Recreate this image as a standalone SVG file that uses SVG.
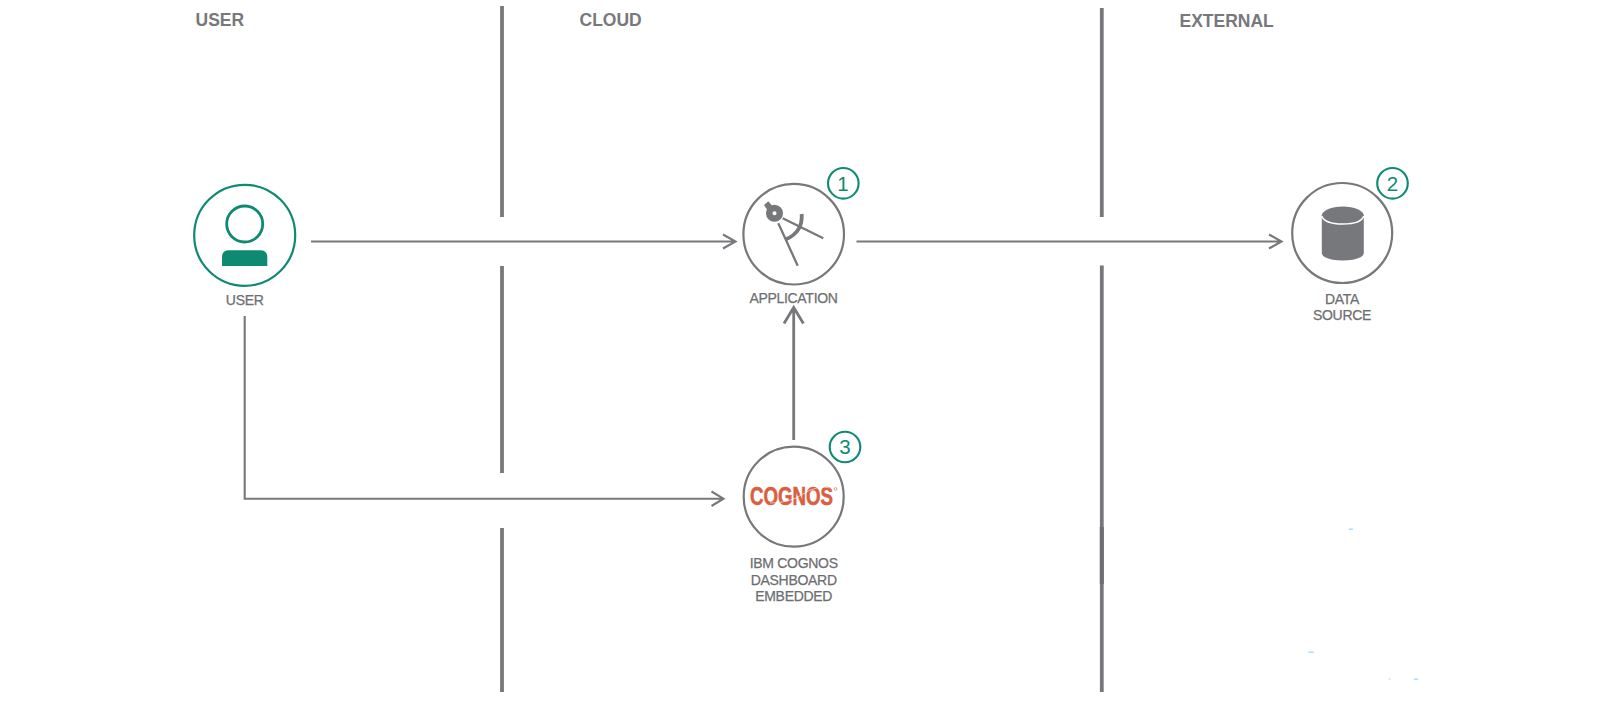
<svg xmlns="http://www.w3.org/2000/svg" width="1601" height="701" viewBox="0 0 1601 701">
<style>
.head{font:bold 17.5px "Liberation Sans",Arial,sans-serif;fill:#77787b}
.lab{font:14px "Liberation Sans",Arial,sans-serif;fill:#6d6e71;text-anchor:middle;letter-spacing:-.3px;stroke:#6d6e71;stroke-width:.25px}
.num{font:20.500px "Liberation Sans",Arial,sans-serif;fill:#0f8a72;text-anchor:middle}
.ring{fill:#fff;stroke:#77787b;stroke-width:2.200}
.badge{fill:#fff;stroke:#0f8a72;stroke-width:2.100}
.sep{stroke:#77787b;stroke-width:3.800;fill:none}
.conn{stroke:#77787b;stroke-width:2.100;fill:none}
.speck{fill:#a9dcf5}
</style>
<rect width="1601" height="701" fill="#fff"/>
<g id="separators">
<path class="sep" d="M502 6V217M502 266V473M502 528V692M1101.800 8V217M1101.800 265.500V692"/>
<path d="M1101.800 527V584" stroke="#6d6e71" stroke-width="4" fill="none"/>
</g>
<g id="zone-labels">
<text class="head" x="195.500" y="25.700">USER</text>
<text class="head" x="579.500" y="25.700">CLOUD</text>
<text class="head" x="1179.500" y="26.700">EXTERNAL</text>
</g>
<g id="connectors">
<path class="conn" d="M311 241.500H735M723 234.500L735.500 241.500L723 248.500"/>
<path class="conn" d="M856.500 241.500H1281M1269 234.500L1281.500 241.500L1269 248.500"/>
<path class="conn" d="M244.700 316V498.700H723M711.500 491.500L723.500 498.700L711.500 506"/>
<path d="M793.700 440V309M784 323.500L793.700 307.500L803.400 323.500" stroke="#77787b" stroke-width="2.800" fill="none"/>
</g>
<g id="user">
<circle cx="244.700" cy="235.300" r="50.500" fill="#fff" stroke="#0f8a72" stroke-width="2.200"/>
<circle cx="244.700" cy="224" r="18" fill="#fff" stroke="#0f8a72" stroke-width="2.800"/>
<path d="M222 266V257Q222 250.300 229 250.300H260Q267.300 250.300 267.300 257V266Z" fill="#0f8a72"/>
<text class="lab" x="244.700" y="305.300">USER</text>
</g>
<g id="application">
<circle class="ring" cx="793.700" cy="234.200" r="50.300"/>
<path d="M782.700 218.300L823.300 238.300M778.300 223.300L797.700 265.700" stroke="#77787b" stroke-width="2.300" fill="none"/>
<path d="M801.700 214Q803 232 786 239.300" stroke="#77787b" stroke-width="3.800" fill="none"/>
<path d="M764 205L768.300 201.300L775 209L770 214Z" fill="#77787b"/>
<circle cx="774.500" cy="213.300" r="5.300" fill="#fff" stroke="#77787b" stroke-width="6.500"/>
<text class="lab" x="793.500" y="302.700">APPLICATION</text>
<circle class="badge" cx="843.300" cy="183.300" r="15.300"/>
<text class="num" x="843" y="190.500">1</text>
</g>
<g id="data-source">
<circle class="ring" cx="1342.200" cy="233" r="50"/>
<path d="M1321.800 215V253Q1321.800 255 1324.500 257Q1331.500 260.500 1342.800 260.500Q1354 260.500 1361 257Q1363.800 255 1363.800 253V215Z" fill="#77787b"/>
<ellipse cx="1342.800" cy="215.500" rx="21" ry="9" fill="#77787b"/>
<path d="M1321.800 216Q1324.500 224 1342.800 224Q1361 224 1363.800 216" stroke="#fff" stroke-width="1.500" fill="none"/>
<text class="lab" x="1342" y="304">DATA</text>
<text class="lab" x="1342" y="320">SOURCE</text>
<circle class="badge" cx="1392.500" cy="183.300" r="15.300"/>
<text class="num" x="1392.500" y="190.500">2</text>
</g>
<g id="cognos">
<circle class="ring" cx="793.700" cy="496.700" r="50"/>
<text x="750" y="505" textLength="83" lengthAdjust="spacingAndGlyphs" style="font:bold 25px 'Liberation Sans',Arial,sans-serif;fill:#d9603f;stroke:#d9603f;stroke-width:.6px">COGNOS</text>
<path d="M770 503Q790 503 803 494T832 488" stroke="#fff" stroke-width=".7" fill="none" opacity=".8"/>
<circle cx="835.500" cy="489" r="1.400" fill="none" stroke="#d9603f" stroke-width=".6"/>
<text class="lab" x="793.700" y="567.700">IBM COGNOS</text>
<text class="lab" x="793.700" y="584.500">DASHBOARD</text>
<text class="lab" x="793.700" y="601">EMBEDDED</text>
<circle class="badge" cx="845" cy="447" r="15.300"/>
<text class="num" x="845" y="454">3</text>
</g>
<g id="specks">
<rect class="speck" x="1349" y="528.500" width="4" height="1.500"/>
<rect class="speck" x="1308.500" y="651.500" width="5" height="1.500"/>
<rect class="speck" x="1388.500" y="678.500" width="2" height="1"/>
<rect class="speck" x="1414" y="678.500" width="4" height="1.500"/>
</g>
</svg>
